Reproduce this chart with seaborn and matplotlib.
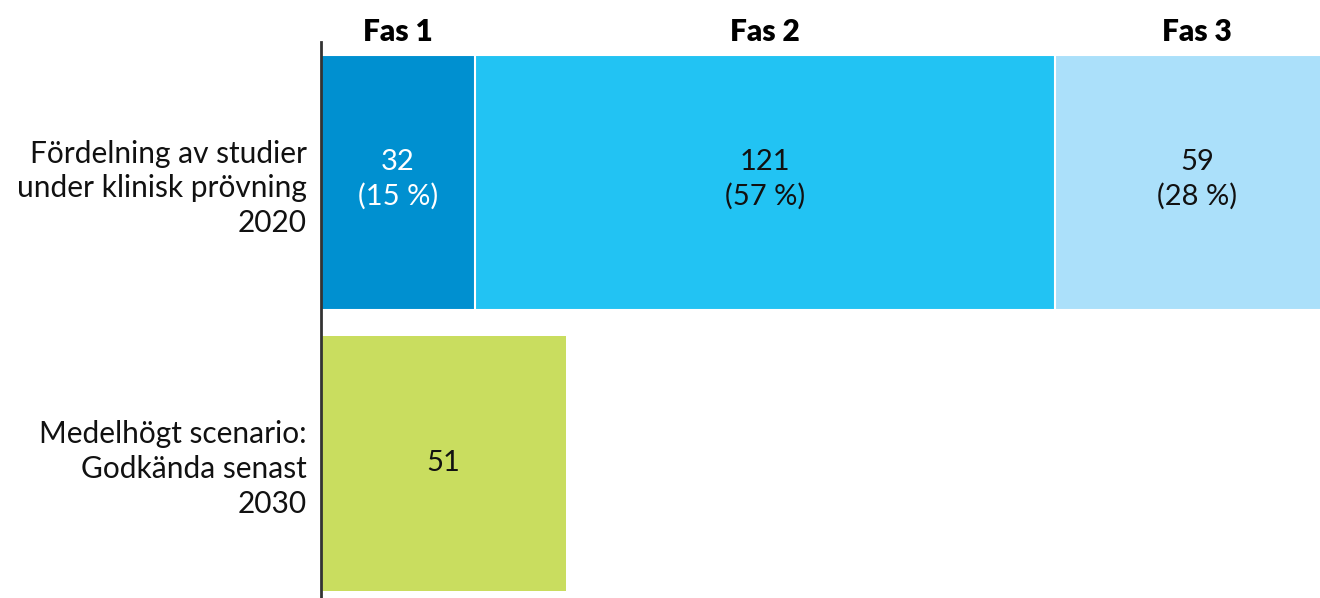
import pandas as pd
import seaborn as sns
import matplotlib.pyplot as plt

# data
rows = ["Fördelning av studier\nunder klinisk prövning\n2020",
        "Medelhögt scenario:\nGodkända senast\n2030"]
phases = ["Fas 1", "Fas 2", "Fas 3"]
phase_counts = [32, 121, 59]
phase_shares = [15, 57, 28]
scenario_value = 51

colors = ["#0090d0", "#22c3f3", "#abe0fa"]
green = "#c9dd5f"

sns.set_style("white")
plt.rcParams['font.family'] = ['Lato', 'DejaVu Sans']

fig = plt.figure(figsize=(13.2, 5.98), dpi=100)
ax = fig.add_axes([321 / 1320, 0, 1 - 321 / 1320, 1 - 42 / 598])

cums = pd.Series(phase_counts).cumsum().tolist()
bw = 0.907

# stacked bar: draw cumulative totals back to front
for i in reversed(range(len(phases))):
    sns.barplot(x=[cums[i]], y=[rows[0]], order=rows, color=colors[i],
                width=bw, orient="h", edgecolor="white", linewidth=1.5,
                saturation=1, ax=ax)
sns.barplot(x=[scenario_value], y=[rows[1]], order=rows, color=green,
            width=bw, orient="h", linewidth=0, saturation=1, ax=ax)

# labels
starts = [0] + cums[:-1]
for i, p in enumerate(phases):
    mid = starts[i] + phase_counts[i] / 2
    tc = "white" if i == 0 else "#111111"
    ax.text(mid, -0.01, f"{phase_counts[i]}\n({phase_shares[i]} %)", ha="center",
            va="center", fontsize=21, color=tc, linespacing=1.35)
    ax.text(mid, -0.536, p, ha="center", va="center", fontsize=21.5,
            fontweight="heavy", color="black", clip_on=False)
ax.text(scenario_value / 2, 1, str(scenario_value), ha="center", va="center",
        fontsize=21, color="#111111")

# Fas 3 runs past the right edge in the original
ax.set_xlim(0, 208.1)
ax.set_ylim(1.479, -0.5)
ax.set_xlabel("")
ax.set_ylabel("")
ax.set_xticks([])
ax.set_yticks([0, 1])
ax.set_yticklabels(rows, fontsize=21.5, multialignment="right", linespacing=1.3,
                   color="#111111")
ax.tick_params(axis="y", length=0, pad=10)
for s in ["top", "right", "bottom"]:
    ax.spines[s].set_visible(False)
ax.spines["left"].set_color("#333333")
ax.spines["left"].set_linewidth(2)

fig.savefig("out.png", dpi=100)
